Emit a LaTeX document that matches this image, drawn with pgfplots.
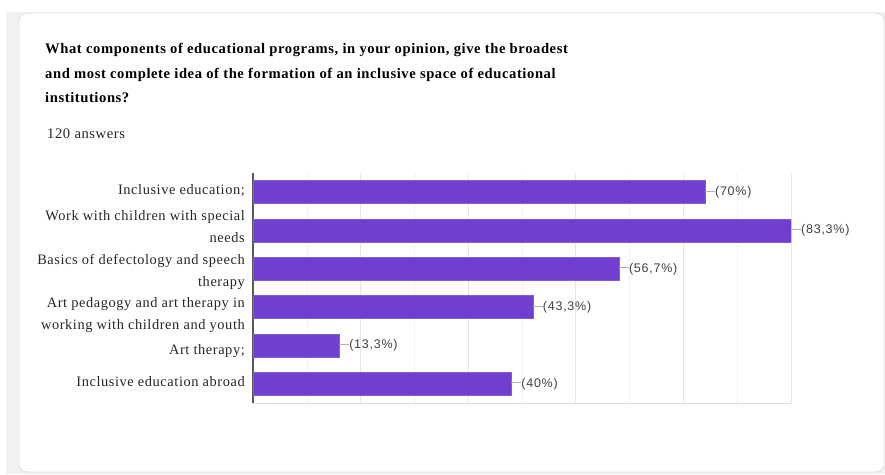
\documentclass[border=0pt]{standalone}
\usepackage{pgfplots}
\pgfplotsset{compat=1.18}
\usepackage{fontspec}
\setmainfont{Liberation Serif}[LetterSpace=4]
\newfontfamily\lsans{Liberation Sans}[LetterSpace=6]
\definecolor{barc}{RGB}{113,63,207}
\definecolor{bgc}{RGB}{241,241,241}
\newcommand{\ld}{\textcolor{black!30}{\rule[0.33em]{10pt}{0.7pt}}}
\newcommand{\lab}[2]{\raisebox{#1}[0pt][0pt]{\renewcommand{\arraystretch}{0.96}\begin{tabular}{@{}r@{}}#2\end{tabular}}}
\begin{document}
\begin{tikzpicture}
\useasboundingbox (0pt,0pt) rectangle (885pt,-474pt);
\fill[white] (0pt,0pt) rectangle (885pt,-474pt);
\fill[bgc] (6pt,-12pt) rectangle (885pt,-474pt);
\filldraw[fill=white, draw=black!12, line width=0.8pt, rounded corners=8pt] (19pt,-13pt) rectangle (884pt,-472pt);
\node[anchor=base west, inner sep=0pt, font=\bfseries\fontsize{14.6}{17}\selectfont] at (45pt,-53pt) {What components of educational programs, in your opinion, give the broadest};
\node[anchor=base west, inner sep=0pt, font=\bfseries\fontsize{14.6}{17}\selectfont] at (45pt,-78pt) {and most complete idea of the formation of an inclusive space of educational};
\node[anchor=base west, inner sep=0pt, font=\bfseries\fontsize{14.6}{17}\selectfont] at (45pt,-102pt) {institutions?};
\node[anchor=base west, inner sep=0pt, font=\fontsize{14.6}{17}\selectfont, text=black!85] at (47pt,-138pt) {120 answers};
\begin{axis}[
  at={(253pt,-403pt)}, anchor=south west,
  scale only axis, width=538pt, height=230pt,
  xbar, bar width=23pt,
  xmin=0, xmax=100, ymin=-0.5, ymax=5.5,
  xtick={0,20,...,100}, minor xtick={10,30,...,90},
  xticklabels={},
  xmajorgrids, xminorgrids,
  major grid style={draw=black!10, line width=0.8pt},
  minor grid style={draw=black!5, line width=0.6pt},
  ytick={0,...,5},
  yticklabels={{\lab{-1.6pt}{Inclusive education abroad}},{\lab{-8.6pt}{Art therapy;}},{\lab{-10.6pt}{Art pedagogy and art therapy in\\working with children and youth}},{\lab{-5.6pt}{Basics of defectology and speech\\therapy}},{\lab{0pt}{Work with children with special\\needs}},{\lab{-1.6pt}{Inclusive education;}}},
  yticklabel style={font=\fontsize{14.4}{23}\selectfont, text=black!85, inner sep=0pt, xshift=-8pt},
  major tick length=0pt, minor tick length=0pt,
  axis x line*=bottom, axis y line*=left,
  x axis line style={draw=black!12, -},
  y axis line style={draw=black!65, line width=1.3pt, -},
  point meta=explicit symbolic,
  nodes near coords={\ld\pgfplotspointmeta},
  nodes near coords style={anchor=west, inner sep=0pt, xshift=0pt, font=\lsans\fontsize{12.5}{14}\selectfont, text=black!75},
]
\addplot[fill=barc, draw=barc!85!white] coordinates {
 (84,5) [(70\%)]
 (100,4) [(83,3\%)]
 (68,3) [(56,7\%)]
 (52,2) [(43,3\%)]
 (16,1) [(13,3\%)]
 (48,0) [(40\%)]
};
\end{axis}
\end{tikzpicture}
\end{document}
